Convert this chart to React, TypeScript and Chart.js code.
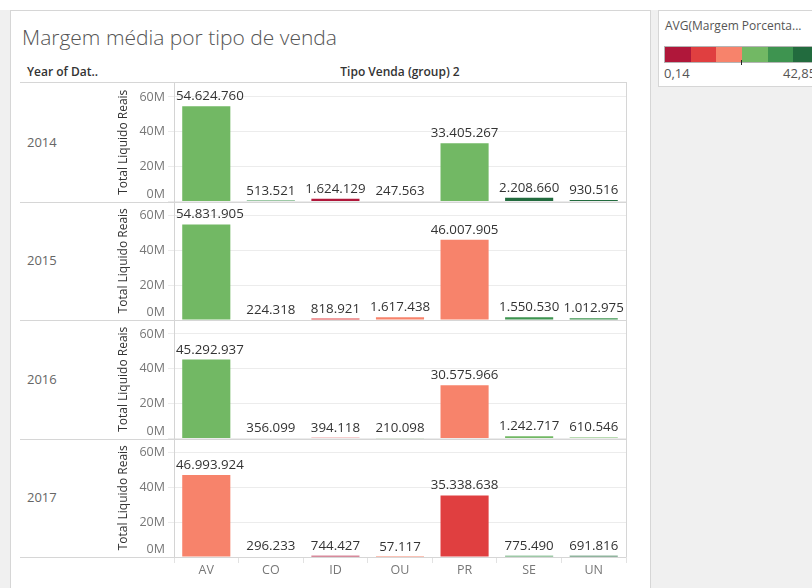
import React, { useEffect, useRef } from 'react';
import { Chart, registerables } from 'chart.js';

Chart.register(...registerables);

const FONT = '"Open Sans", "Noto Sans", sans-serif';

// ---------- data ----------
const categories = ['AV', 'CO', 'ID', 'OU', 'PR', 'SE', 'UN'];
const years = ['2014', '2015', '2016', '2017'];

const sales2014 = [54624760, 513521, 1624129, 247563, 33405267, 2208660, 930516];
const sales2015 = [54831905, 224318, 818921, 1617438, 46007905, 1550530, 1012975];
const sales2016 = [45292937, 356099, 394118, 210098, 30575966, 1242717, 610546];
const sales2017 = [46993924, 296233, 744427, 57117, 35338638, 775490, 691816];

// AVG(Margem Porcentagem)
const margin2014 = [25.1, 31.6, 3.8, 24.0, 26.3, 39.2, 37.9];
const margin2015 = [24.7, 26.0, 10.9, 18.2, 17.5, 33.1, 31.2];
const margin2016 = [25.5, 23.9, 12.3, 22.8, 16.8, 23.2, 24.4];
const margin2017 = [19.6, 27.1, 4.6, 20.0, 9.8, 30.2, 38.5];

const yTickValues = [0, 20000000, 40000000, 60000000];
const yMax = 68000000;

const palette = ['#b0173a', '#e03f40', '#f7836b', '#72b864', '#3e9450', '#226b3e'];
const legendMin = 0.14;
const legendMax = 42.85;
const legendMinLabel = '0,14';
const legendMaxLabel = '42,85';

const sales = [sales2014, sales2015, sales2016, sales2017];
const margins = [margin2014, margin2015, margin2016, margin2017];

const colorFor = (m: number) => {
  const step = (legendMax - legendMin) / palette.length;
  const idx = Math.max(0, Math.min(palette.length - 1, Math.floor((m - legendMin) / step)));
  return palette[idx];
};

const fmt = (v: number) => String(Math.round(v)).replace(/\B(?=(\d{3})+(?!\d))/g, '.');

// layout constants
const PLOT_TOP = 83;
const PLOT_BOTTOM = 557;
const ROW_H = (PLOT_BOTTOM - PLOT_TOP) / years.length;

const framePlugin = {
  id: 'framePlugin',
  afterDatasetsDraw(chart: any) {
    const { ctx, chartArea } = chart;
    ctx.save();
    // value labels
    ctx.font = `13.3px ${FONT}`;
    ctx.fillStyle = '#333333';
    ctx.textAlign = 'center';
    ctx.textBaseline = 'alphabetic';
    chart.data.datasets.forEach((ds: any, di: number) => {
      const meta = chart.getDatasetMeta(di);
      meta.data.forEach((el: any, i: number) => {
        const txt = fmt(ds.data[i]);
        const w = ctx.measureText(txt).width;
        let x = el.x;
        x = Math.max(x, chartArea.left + 2 + w / 2);
        x = Math.min(x, chartArea.right - 2 - w / 2);
        ctx.fillText(txt, x, el.y - 6);
      });
    });
    // row separators
    ctx.strokeStyle = '#d6d6d6';
    ctx.lineWidth = 1;
    const hline = (y: number) => {
      const yy = Math.round(y) + 0.5;
      ctx.beginPath();
      ctx.moveTo(20, yy);
      ctx.lineTo(chartArea.right, yy);
      ctx.stroke();
    };
    hline(chartArea.top - 1);
    years.forEach((y) => {
      const s = chart.scales['y' + y];
      hline(s.bottom);
    });
    const xx = Math.round(chartArea.right) + 0.5;
    ctx.beginPath();
    ctx.moveTo(xx, chartArea.top - 1);
    ctx.lineTo(xx, chartArea.bottom);
    ctx.stroke();
    ctx.restore();
  },
};

export default function App() {
  const ref = useRef<HTMLCanvasElement>(null);

  useEffect(() => {
    if (!ref.current) return;
    const datasets = years.map((y, r) => ({
      label: y,
      data: sales[r],
      yAxisID: 'y' + y,
      backgroundColor: margins[r].map(colorFor),
      grouped: false,
      barPercentage: 0.745,
      categoryPercentage: 1,
      borderWidth: 0,
    }));

    const scales: any = {
      x: {
        type: 'category',
        offset: true,
        grid: { display: true, drawOnChartArea: false, tickLength: 6, color: '#e2e2e2', offset: true },
        border: { display: false },
        ticks: { color: '#777777', font: { family: FONT, size: 12.5 }, padding: 0, maxRotation: 0, autoSkip: false },
        afterFit: (s: any) => {
          s.height = 22;
        },
      },
    };
    // later-defined stacked scales are placed on top, so define bottom row first
    years
      .slice()
      .reverse()
      .forEach((y) => {
        scales['y' + y] = {
          type: 'linear',
          position: 'left',
          stack: 'rows',
          stackWeight: 1,
          min: 0,
          max: yMax,
          grid: { color: '#ececec', tickLength: 6, drawTicks: true },
          border: { color: '#d4d4d4' },
          ticks: {
            color: '#777777',
            font: { family: FONT, size: 12.5 },
            padding: 3,
            autoSkip: false,
            callback: (v: number) => (v === 0 ? ['0M', ''] : `${v / 1000000}M`),
          },
          afterBuildTicks: (s: any) => {
            s.ticks = yTickValues.map((v) => ({ value: v }));
          },
          afterFit: (s: any) => {
            s.width = 64;
          },
          title: {
            display: true,
            text: 'Total Liquido Reais',
            color: '#333333',
            font: { family: FONT, size: 12 },
            padding: { top: 6, bottom: 0 },
          },
        };
      });

    const chart = new Chart(ref.current, {
      type: 'bar',
      data: { labels: categories, datasets },
      plugins: [framePlugin],
      options: {
        responsive: false,
        devicePixelRatio: 1,
        animation: false,
        layout: { padding: { left: 110, top: PLOT_TOP, right: 812 - 626, bottom: 588 - PLOT_BOTTOM - 22 } },
        plugins: { legend: { display: false }, tooltip: { enabled: false }, title: { display: false } },
        scales,
      } as any,
    });
    return () => chart.destroy();
  }, []);

  const abs = (s: React.CSSProperties): React.CSSProperties => ({ position: 'absolute', ...s });

  return (
    <div
      style={{
        position: 'fixed',
        left: 0,
        top: 0,
        width: 812,
        height: 588,
        background: '#f0f0f0',
        overflow: 'hidden',
        fontFamily: FONT,
      }}
    >
      <div style={abs({ left: 0, top: 0, width: 812, height: 10, background: '#ffffff' })} />
      <div
        style={abs({
          left: 10,
          top: 10,
          width: 641,
          height: 600,
          background: '#ffffff',
          border: '1px solid #d6d6d6',
          boxSizing: 'border-box',
        })}
      />
      <div
        style={abs({
          left: 658,
          top: 10,
          width: 170,
          height: 77,
          background: '#ffffff',
          border: '1px solid #d6d6d6',
          boxSizing: 'border-box',
        })}
      />
      {/* title */}
      <div
        style={abs({
          left: 22,
          top: 23,
          fontSize: 21,
          lineHeight: '28px',
          color: '#555555',
          fontWeight: 300,
          whiteSpace: 'nowrap',
        })}
      >
        Margem média por tipo de venda
      </div>
      {/* headers */}
      <div
        style={abs({ left: 27, top: 64, fontSize: 12, lineHeight: '16px', color: '#333333', fontWeight: 600, whiteSpace: 'nowrap' })}
      >
        Year of Dat..
      </div>
      <div
        style={abs({
          left: 174,
          width: 452,
          top: 64,
          fontSize: 12,
          lineHeight: '16px',
          color: '#333333',
          fontWeight: 600,
          textAlign: 'center',
          whiteSpace: 'nowrap',
        })}
      >
        Tipo Venda (group) 2
      </div>
      {years.map((y, i) => (
        <div
          key={y}
          style={abs({
            left: 27,
            top: PLOT_TOP + (i + 0.5) * ROW_H - 8.4,
            fontSize: 13,
            lineHeight: '16px',
            color: '#666666',
            whiteSpace: 'nowrap',
          })}
        >
          {y}
        </div>
      ))}
      {/* legend */}
      <div style={abs({ left: 665, top: 18, fontSize: 12, lineHeight: '16px', color: '#555555', whiteSpace: 'nowrap' })}>
        AVG(Margem Porcenta...
      </div>
      <div
        style={abs({
          left: 664,
          top: 46,
          width: 156,
          height: 17,
          border: '1px solid #b5b5b5',
          boxSizing: 'border-box',
          display: 'flex',
        })}
      >
        {palette.map((c) => (
          <div key={c} style={{ flex: 1, background: c }} />
        ))}
      </div>
      <div style={abs({ left: 741, top: 60, width: 1, height: 5, background: '#222222' })} />
      <div style={abs({ left: 664, top: 65, fontSize: 13, lineHeight: '16px', color: '#555555' })}>{legendMinLabel}</div>
      <div style={abs({ left: 783, top: 65, fontSize: 13, lineHeight: '16px', color: '#555555', whiteSpace: 'nowrap' })}>
        {legendMaxLabel}
      </div>
      <canvas ref={ref} width={812} height={588} style={abs({ left: 0, top: 0, width: 812, height: 588 })} />
    </div>
  );
}
